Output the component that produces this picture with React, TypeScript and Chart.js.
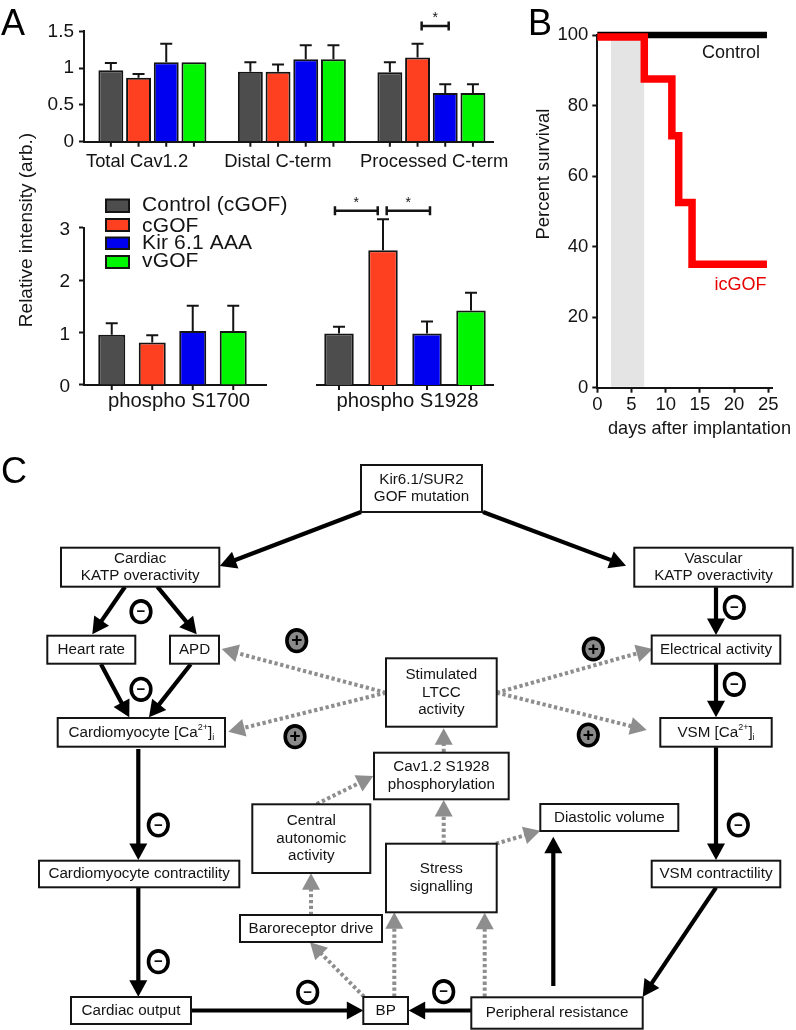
import React, { useEffect, useRef } from "react";
import { Chart, registerables } from "chart.js";

Chart.register(...registerables);

const FONT = '"Liberation Sans", Arial, sans-serif';
const INK = "#141414";
const PAGE_W = 796;
const PAGE_H = 1030;

// ---- Panel A data ----
const seriesNames = ["Control (cGOF)", "cGOF", "Kir 6.1 AAA", "vGOF"];
const seriesColors = ["#4d4d4d", "#ff4020", "#0000f0", "#00f500"];

const proteinCategories = ["Total Cav1.2", "Distal C-term", "Processed C-term"];
const proteinControl = [0.97, 0.95, 0.945];
const proteinCgof = [0.87, 0.95, 1.145];
const proteinKir = [1.08, 1.12, 0.66];
const proteinVgof = [1.08, 1.12, 0.66];
const proteinControlErr = [0.1, 0.13, 0.135];
const proteinCgofErr = [0.05, 0.1, 0.185];
const proteinKirErr = [0.25, 0.19, 0.12];
const proteinVgofErr = [0, 0.19, 0.12];

const s1700Values = [0.96, 0.81, 1.03, 1.03];
const s1700Errors = [0.22, 0.14, 0.48, 0.48];
const s1928Values = [0.98, 2.57, 0.98, 1.42];
const s1928Errors = [0.13, 0.59, 0.23, 0.34];

// ---- Panel B data ----
const controlDays = [0, 24.8];
const controlSurvival = [100, 100];
const icgofDays = [0, 6.87, 10.9, 11.9, 13.85, 24.8];
const icgofSurvival = [99.4, 87.5, 71.4, 52.5, 35, 35];
const treatmentWindow = [2, 6.85];

// ---- Panel C content ----
type Node = { lines: string[]; box: [number, number, number, number] };
const nodes: Node[] = [
  { lines: ["Kir6.1/SUR2", "GOF mutation"], box: [361, 465, 482, 512] },
  { lines: ["Cardiac", "KATP overactivity"], box: [61, 547.7, 219.3, 586.7] },
  { lines: ["Vascular", "KATP overactivity"], box: [634.3, 547.7, 792.7, 586.7] },
  { lines: ["Heart rate"], box: [47.3, 635.7, 135.3, 663.7] },
  { lines: ["APD"], box: [170, 635.7, 219, 663.7] },
  { lines: ["Electrical activity"], box: [651.7, 635.5, 780.3, 663.7] },
  { lines: ["Cardiomyocyte [Ca^2+~]_i"], box: [57.7, 718, 225, 746.7] },
  { lines: ["VSM [Ca^2+~]_i"], box: [660.3, 718, 771.7, 746.7] },
  { lines: ["Stimulated", "LTCC", "activity"], box: [386, 658.3, 496.7, 726.7] },
  { lines: ["Cav1.2 S1928", "phosphorylation"], box: [374, 752.7, 508.7, 799.3] },
  { lines: ["Central", "autonomic", "activity"], box: [252.3, 804.3, 370.3, 873] },
  { lines: ["Diastolic volume"], box: [540.3, 804, 678.3, 831] },
  { lines: ["Stress", "signalling"], box: [386, 843.7, 496.7, 912.3] },
  { lines: ["Cardiomyocyte contractility"], box: [39, 860.7, 239.3, 887.3] },
  { lines: ["VSM contractility"], box: [651.7, 860.7, 780.3, 887.3] },
  { lines: ["Baroreceptor drive"], box: [240, 915, 382, 942] },
  { lines: ["Cardiac output"], box: [71, 997, 191, 1024] },
  { lines: ["BP"], box: [363.3, 997, 408, 1024] },
  { lines: ["Peripheral resistance"], box: [471.3, 997.3, 642.7, 1028.7] },
];

type Edge = [number, number, number, number];
const solidEdges: Edge[] = [
  [361, 512, 219.8, 566],
  [483, 512, 626, 565.7],
  [125, 586.7, 92.3, 634.3],
  [157.3, 586.7, 196.7, 634.3],
  [101, 664.3, 129.3, 717.3],
  [190.7, 664.3, 149, 717.3],
  [138.3, 749, 138.3, 860],
  [138.3, 888, 138.3, 996.7],
  [191, 1010.5, 363.3, 1010.5],
  [716, 587.3, 716, 635],
  [716, 664, 716, 717.3],
  [716, 747.3, 716, 860],
  [716, 887.7, 642.7, 996.7],
  [471.3, 1010.5, 408.7, 1010.5],
  [553.3, 986, 553.3, 836.7],
];
const dottedEdges: Edge[] = [
  [386, 692.7, 221.7, 649],
  [386, 692.7, 228.3, 731.7],
  [496.7, 692.7, 652.7, 649],
  [496.7, 692.7, 646.7, 730],
  [443.7, 752, 443.7, 728.3],
  [443.7, 843.7, 443.7, 800],
  [496, 843.7, 540.3, 830.7],
  [316.7, 804, 373.3, 776],
  [311, 915, 311, 873.3],
  [364, 996.7, 310, 942.3],
  [394.3, 996.7, 394.3, 912.3],
  [484.7, 996.7, 484.7, 912.7],
];
const minusBadges = [
  [141, 611.7], [141, 689.3], [734.3, 607.3], [734.3, 684.3], [158.3, 825],
  [158.3, 961.7], [307.7, 992.3], [738.3, 825], [443.7, 991.7],
];
const plusBadges = [
  [296.7, 640.7], [295, 736.7], [593.3, 649], [588.3, 735],
];

// ---- helpers ----
type Note = {
  text: string; x: number; y: number; size: number; color?: string;
  align?: CanvasTextAlign; rotate?: number; spacing?: number;
};

function putText(ctx: any, n: Note) {
  ctx.save();
  ctx.translate(n.x, n.y);
  if (n.rotate) ctx.rotate(n.rotate);
  ctx.font = `${n.size}px ${FONT}`;
  ctx.fillStyle = n.color || INK;
  ctx.textAlign = n.align || "center";
  ctx.textBaseline = "middle";
  if (n.spacing) ctx.letterSpacing = `${n.spacing}px`;
  ctx.fillText(n.text, 0, 0);
  ctx.restore();
}

const notesPlugin = (notes: Note[]) => ({
  id: "notes",
  afterDraw(chart: any) {
    notes.forEach((n) => putText(chart.ctx, n));
  },
});

// Error whiskers, baseline tick marks for every bar, and significance brackets
const barExtras = (
  labelXs: number[],
  labels: string[],
  labelY: number,
  labelSize: number,
  brackets: { from: number; to: number; value: number }[],
) => ({
  id: "barExtras",
  afterDatasetsDraw(chart: any) {
    const { ctx, scales } = chart;
    const bottom = chart.chartArea.bottom;
    ctx.save();
    ctx.strokeStyle = INK;
    ctx.lineWidth = 2;
    chart.data.datasets.forEach((ds: any, i: number) => {
      chart.getDatasetMeta(i).data.forEach((bar: any, j: number) => {
        ctx.beginPath();
        ctx.moveTo(bar.x, bottom);
        ctx.lineTo(bar.x, bottom + 5);
        const err = ds.errors[j];
        if (err > 0) {
          const top = scales.y.getPixelForValue(ds.data[j].y + err);
          ctx.moveTo(bar.x, bar.y);
          ctx.lineTo(bar.x, top);
          ctx.moveTo(bar.x - 6, top);
          ctx.lineTo(bar.x + 6, top);
        }
        ctx.stroke();
      });
    });
    brackets.forEach((b) => {
      const x0 = scales.x.getPixelForValue(b.from);
      const x1 = scales.x.getPixelForValue(b.to);
      const y = scales.y.getPixelForValue(b.value);
      ctx.beginPath();
      ctx.lineWidth = 2;
      ctx.moveTo(x0, y);
      ctx.lineTo(x1, y);
      ctx.moveTo(x0, y - 4.5);
      ctx.lineTo(x0, y + 4.5);
      ctx.moveTo(x1, y - 4.5);
      ctx.lineTo(x1, y + 4.5);
      ctx.lineWidth = 2.5;
      ctx.stroke();
      putText(ctx, { text: "*", x: (x0 + x1) / 2, y: y - 8, size: 14 });
    });
    ctx.restore();
    labels.forEach((text, i) =>
      putText(ctx, { text, x: scales.x.getPixelForValue(labelXs[i]), y: labelY, size: labelSize }),
    );
  },
});

const legendRows = [
  { box: [199.5, 212], text: 205 },
  { box: [219, 231], text: 226 },
  { box: [237.5, 249], text: 243 },
  { box: [256, 268], text: 261 },
];
const legendPlugin = {
  id: "figureLegend",
  afterDraw(chart: any) {
    const { ctx } = chart;
    chart.data.datasets.forEach((ds: any, i: number) => {
      const row = legendRows[i];
      ctx.save();
      ctx.fillStyle = ds.backgroundColor;
      ctx.strokeStyle = INK;
      ctx.lineWidth = 2;
      ctx.fillRect(106, row.box[0], 23, row.box[1] - row.box[0]);
      ctx.strokeRect(106, row.box[0], 23, row.box[1] - row.box[0]);
      ctx.restore();
      putText(ctx, { text: ds.label, x: 142, y: row.text, size: 21, align: "left", spacing: 0.15 });
    });
  },
};

// Places the plot area at exact page pixels on a page-sized canvas; the axis
// boxes keep a fixed size so their tick labels are not clipped.
const AXIS_BOX = 60;
const X_BOX = 30;
const areaOptions = (left: number, top: number, right: number, bottom: number, xBox = 0, yBox = 0) => ({
  responsive: false,
  animation: false as const,
  devicePixelRatio: 1,
  layout: { padding: { left: left - yBox, top, right: PAGE_W - right, bottom: PAGE_H - bottom - xBox } },
  events: [] as string[],
});
const fixWidth = (s: any) => { s.width = AXIS_BOX; };
const fixHeight = (s: any) => { s.height = X_BOX; };
const collapseHeight = (s: any) => { s.height = 0; };

const hiddenPlugins = { legend: { display: false }, tooltip: { enabled: false }, title: { display: false } };

const yAxis = (max: number, step: number, size: number, pad: number, labelOffset = 0) => ({
  min: 0,
  max,
  afterFit: fixWidth,
  border: { display: true, color: INK, width: 2 },
  grid: { drawOnChartArea: false, drawTicks: true, tickLength: 5, tickColor: INK, tickWidth: 2 },
  ticks: {
    stepSize: step,
    padding: pad,
    labelOffset,
    color: INK,
    font: { family: FONT, size },
    callback: (v: any) => String(v),
  },
});
const xBarAxis = (min: number, max: number) => ({
  type: "linear" as const,
  offset: false,
  min,
  max,
  afterFit: collapseHeight,
  // Only whole group positions count as ticks, so bar widths follow the group spacing.
  afterBuildTicks: (s: any) => { s.ticks = s.ticks.filter((t: any) => Number.isInteger(t.value)); },
  border: { display: true, color: INK, width: 2 },
  grid: { display: false, offset: false },
  ticks: { display: false, stepSize: 1, includeBounds: false },
});

const barDataset = (i: number, values: number[], errors: number[], groupX: number[]) => ({
  label: seriesNames[i],
  data: values.map((y, k) => ({ x: groupX[k], y })),
  errors,
  backgroundColor: seriesColors[i],
  borderColor: INK,
  borderWidth: 2,
});

function buildAllCharts(cv: HTMLCanvasElement[]) {
  const charts: Chart[] = [];

  // ---- A, top ----
  const groupX = [1, 2, 3];
  const proteinRows = [proteinControl, proteinCgof, proteinKir, proteinVgof];
  const proteinErrs = [proteinControlErr, proteinCgofErr, proteinKirErr, proteinVgofErr];
  charts.push(
    new Chart(cv[0], {
      type: "bar",
      data: {
        labels: proteinCategories,
        datasets: proteinRows.map((r, i) => barDataset(i, r, proteinErrs[i], groupX)) as any,
      },
      options: {
        ...areaOptions(84, 31.3, 493, 141.7, 0, AXIS_BOX),
        categoryPercentage: 0.794,
        barPercentage: 0.9,
        plugins: hiddenPlugins,
        scales: { x: xBarAxis(0.5097, 3.4416), y: yAxis(1.5, 0.5, 19, 5) },
      } as any,
      plugins: [barExtras([0.89, 1.9, 3.02], proteinCategories, 161.7, 18.4, [{ from: 2.93, to: 3.124, value: 1.572 }])],
    }),
  );

  // ---- A, bottom left ----
  charts.push(
    new Chart(cv[1], {
      type: "bar",
      data: {
        labels: ["phospho S1700"],
        datasets: seriesNames.map((_, i) => barDataset(i, [s1700Values[i]], [s1700Errors[i]], [1])) as any,
      },
      options: {
        ...areaOptions(84, 227.7, 266, 385, 0, AXIS_BOX),
        categoryPercentage: 0.89,
        barPercentage: 0.667,
        plugins: hiddenPlugins,
        scales: { x: xBarAxis(0.5138, 1.5138), y: yAxis(3, 1, 19, 9, 2) },
      } as any,
      plugins: [barExtras([1.036], ["phospho S1700"], 401.7, 20.3, []), legendPlugin],
    }),
  );

  // ---- A, bottom right ----
  charts.push(
    new Chart(cv[2], {
      type: "bar",
      data: {
        labels: ["phospho S1928"],
        datasets: seriesNames.map((_, i) => barDataset(i, [s1928Values[i]], [s1928Errors[i]], [1])) as any,
      },
      options: {
        ...areaOptions(317, 227.7, 493, 385),
        categoryPercentage: 1,
        barPercentage: 0.67,
        plugins: hiddenPlugins,
        scales: { x: xBarAxis(0.5, 1.5), y: { min: 0, max: 3, display: false } },
      } as any,
      plugins: [
        barExtras([1.014], ["phospho S1928"], 401.7, 20.3, [
          { from: 0.602, to: 0.845, value: 3.325 },
          { from: 0.896, to: 1.142, value: 3.325 },
        ]),
      ],
    }),
  );

  // ---- B ----
  const bandPlugin = {
    id: "treatmentBand",
    beforeDatasetsDraw(chart: any) {
      const { ctx, scales, chartArea } = chart;
      const x0 = scales.x.getPixelForValue(treatmentWindow[0]);
      const x1 = scales.x.getPixelForValue(treatmentWindow[1]);
      ctx.save();
      ctx.fillStyle = "#e4e4e4";
      ctx.fillRect(x0, chartArea.top, x1 - x0, chartArea.bottom - chartArea.top - 1);
      ctx.restore();
    },
  };
  charts.push(
    new Chart(cv[3], {
      type: "line",
      data: {
        datasets: [
          {
            label: "icGOF",
            data: icgofDays.map((x, i) => ({ x, y: icgofSurvival[i] })),
            borderColor: "#ff0000",
            borderWidth: 7.5,
            stepped: true,
            pointRadius: 0,
            borderJoinStyle: "miter",
            clip: false,
          },
          {
            label: "Control",
            data: controlDays.map((x, i) => ({ x, y: controlSurvival[i] })),
            borderColor: "#000000",
            borderWidth: 6.5,
            stepped: true,
            pointRadius: 0,
            clip: false,
          },
        ] as any,
      },
      options: {
        ...areaOptions(597.3, 35, 772.7, 387.7, X_BOX, AXIS_BOX),
        plugins: hiddenPlugins,
        scales: {
          x: {
            type: "linear",
            min: 0,
            max: 25.64,
            afterFit: fixHeight,
            border: { display: true, color: INK, width: 2 },
            grid: { drawOnChartArea: false, tickLength: 5, tickColor: INK, tickWidth: 2 },
            ticks: {
              stepSize: 5,
              includeBounds: false,
              maxRotation: 0,
              padding: 1,
              color: INK,
              font: { family: FONT, size: 18.5 },
            },
          },
          y: {
            ...yAxis(100, 20, 18.5, 4),
          },
        },
      } as any,
      plugins: [
        bandPlugin,
        notesPlugin([
          { text: "Control", x: 731, y: 53, size: 18 },
          { text: "icGOF", x: 740.5, y: 285, size: 18, color: "#e60000" },
          { text: "Percent survival", x: 544, y: 174, size: 18.4, rotate: -Math.PI / 2 },
          { text: "days after implantation", x: 699.5, y: 429, size: 18.2 },
        ]),
      ],
    }),
  );

  // ---- C ----
  const HEAD_LEN = 16.5;
  const HEAD_W = 18;
  const TEXT_SIZE = 15.2;
  const shortened = (e: Edge, by: number) => {
    const [x0, y0, x1, y1] = e;
    const d = Math.hypot(x1 - x0, y1 - y0);
    const t = (d - by) / d;
    return [{ x: x0, y: y0 }, { x: x0 + (x1 - x0) * t, y: y0 + (y1 - y0) * t }];
  };
  const edgeDataset = (e: Edge, dotted: boolean) => ({
    data: shortened(e, HEAD_LEN - 2),
    showLine: true,
    pointRadius: 0,
    borderColor: dotted ? "#8e8e8e" : "#000000",
    borderWidth: dotted ? 4 : 4.2,
    borderDash: dotted ? [3.3, 2.6] : [],
    tension: 0,
    fill: false,
  });
  const drawHead = (ctx: any, e: Edge, color: string) => {
    const [x0, y0, x1, y1] = e;
    const d = Math.hypot(x1 - x0, y1 - y0);
    const ux = (x1 - x0) / d;
    const uy = (y1 - y0) / d;
    const bx = x1 - ux * HEAD_LEN;
    const by = y1 - uy * HEAD_LEN;
    ctx.fillStyle = color;
    ctx.beginPath();
    ctx.moveTo(x1, y1);
    ctx.lineTo(bx - uy * (HEAD_W / 2), by + ux * (HEAD_W / 2));
    ctx.lineTo(bx + uy * (HEAD_W / 2), by - ux * (HEAD_W / 2));
    ctx.closePath();
    ctx.fill();
  };
  const drawRich = (ctx: any, line: string, cx: number, y: number) => {
    const parts = line.split(/(\^[^~]*~|_\w)/).filter(Boolean);
    const measure = (p: string) => {
      if (p[0] === "^") { ctx.font = `9px ${FONT}`; return ctx.measureText(p.slice(1, -1)).width; }
      if (p[0] === "_") { ctx.font = `9px ${FONT}`; return ctx.measureText(p.slice(1)).width; }
      ctx.font = `${TEXT_SIZE}px ${FONT}`;
      return ctx.measureText(p).width;
    };
    const total = parts.reduce((s, p) => s + measure(p), 0);
    let x = cx - total / 2;
    parts.forEach((p) => {
      const w = measure(p);
      if (p[0] === "^") putText(ctx, { text: p.slice(1, -1), x, y: y - 5, size: 9, align: "left" });
      else if (p[0] === "_") putText(ctx, { text: p.slice(1), x, y: y + 5, size: 9, align: "left" });
      else putText(ctx, { text: p, x, y, size: TEXT_SIZE, align: "left" });
      x += w;
    });
  };
  const diagramPlugin = {
    id: "diagram",
    afterDatasetsDraw(chart: any) {
      const { ctx } = chart;
      ctx.save();
      solidEdges.forEach((e) => drawHead(ctx, e, "#000000"));
      dottedEdges.forEach((e) => drawHead(ctx, e, "#8e8e8e"));
      nodes.forEach((n) => {
        const [x0, y0, x1, y1] = n.box;
        ctx.fillStyle = "#ffffff";
        ctx.strokeStyle = INK;
        ctx.lineWidth = 2;
        ctx.fillRect(x0, y0, x1 - x0, y1 - y0);
        ctx.strokeRect(x0, y0, x1 - x0, y1 - y0);
        const gap = 17.4;
        const startY = (y0 + y1) / 2 - ((n.lines.length - 1) * gap) / 2;
        n.lines.forEach((line, i) => drawRich(ctx, line, (x0 + x1) / 2, startY + i * gap));
      });
      const badge = (x: number, y: number, fill: string, glyph: string, size: number) => {
        ctx.beginPath();
        ctx.ellipse(x, y, 9.8, 10.8, 0, 0, Math.PI * 2);
        ctx.fillStyle = fill;
        ctx.fill();
        ctx.lineWidth = 3.6;
        ctx.strokeStyle = "#000000";
        ctx.stroke();
        ctx.font = `bold ${size}px ${FONT}`;
        ctx.fillStyle = "#000000";
        ctx.textAlign = "center";
        ctx.textBaseline = "middle";
        ctx.fillText(glyph, x, y + 0.5);
      };
      minusBadges.forEach(([x, y]) => badge(x, y, "#ffffff", "\u2212", 15));
      plusBadges.forEach(([x, y]) => badge(x, y, "#8a8a8a", "+", 19));
      ctx.restore();
    },
  };
  charts.push(
    new Chart(cv[4], {
      type: "scatter",
      data: {
        datasets: [
          ...solidEdges.map((e) => edgeDataset(e, false)),
          ...dottedEdges.map((e) => edgeDataset(e, true)),
        ] as any,
      },
      options: {
        ...areaOptions(0, 450, PAGE_W, PAGE_H),
        plugins: hiddenPlugins,
        scales: {
          x: { type: "linear", min: 0, max: PAGE_W, display: false },
          y: { type: "linear", min: 450, max: PAGE_H, reverse: true, display: false },
        },
      } as any,
      plugins: [diagramPlugin],
    }),
  );
  return charts;
}

const panelLetter = (letter: string, left: number, top: number) => (
  <div
    key={letter}
    style={{
      position: "absolute",
      left,
      top,
      font: `36px ${FONT}`,
      lineHeight: "36px",
      color: "#000",
    }}
  >
    {letter}
  </div>
);

export default function App() {
  const refs = useRef<(HTMLCanvasElement | null)[]>([]);
  useEffect(() => {
    const charts = buildAllCharts(refs.current as HTMLCanvasElement[]);
    return () => charts.forEach((c) => c.destroy());
  }, []);
  return (
    <div
      style={{
        position: "absolute",
        left: 0,
        top: 0,
        width: PAGE_W,
        height: PAGE_H,
        overflow: "hidden",
        background: "#fff",
      }}
    >
      {[0, 1, 2, 3, 4].map((i) => (
        <canvas
          key={i}
          ref={(el) => { refs.current[i] = el; }}
          width={PAGE_W}
          height={PAGE_H}
          style={{ position: "absolute", left: 0, top: 0 }}
        />
      ))}
      {panelLetter("A", 1, 5)}
      {panelLetter("B", 528, 5)}
      {panelLetter("C", 1, 453)}
      <div
        style={{
          position: "absolute",
          left: 26,
          top: 229.5,
          transform: "translate(-50%,-50%) rotate(-90deg)",
          font: `19px ${FONT}`,
          whiteSpace: "nowrap",
          color: INK,
        }}
      >
        Relative intensity (arb.)
      </div>
    </div>
  );
}
